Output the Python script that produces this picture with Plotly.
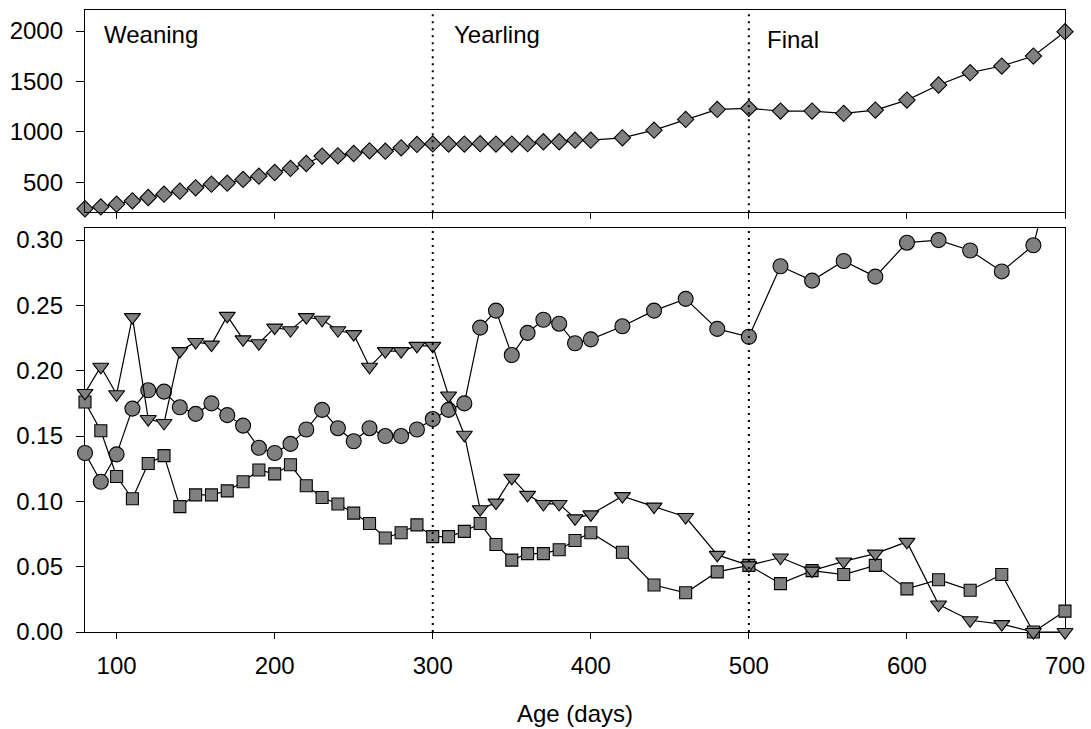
import plotly.graph_objects as go
from plotly.subplots import make_subplots

# ---- data ----
age_days = [80, 90, 100, 110, 120, 130, 140, 150, 160, 170, 180, 190, 200, 210, 220, 230,
            240, 250, 260, 270, 280, 290, 300, 310, 320, 330, 340, 350, 360, 370, 380, 390,
            400, 420, 440, 460, 480, 500, 520, 540, 560, 580, 600, 620, 640, 660, 680, 700]

weight = [240, 258, 285, 318, 351, 384, 414, 447, 483, 493, 530, 562, 599, 639, 688, 761,
          764, 787, 813, 810, 843, 877, 882, 880, 880, 884, 880, 880, 884, 903, 903, 919,
          919, 942, 1018, 1124, 1223, 1234, 1207, 1207, 1184, 1217, 1316, 1465, 1587, 1653, 1752, 1993]

circles = [0.137, 0.115, 0.136, 0.171, 0.185, 0.184, 0.172, 0.167, 0.175, 0.166, 0.158, 0.141,
           0.137, 0.144, 0.155, 0.170, 0.156, 0.146, 0.156, 0.150, 0.150, 0.155, 0.163, 0.170,
           0.175, 0.233, 0.246, 0.212, 0.229, 0.239, 0.236, 0.221, 0.224, 0.234, 0.246, 0.255,
           0.232, 0.226, 0.280, 0.269, 0.284, 0.272, 0.298, 0.300, 0.292, 0.276, 0.296, 0.390]

triangles = [0.183, 0.203, 0.182, 0.241, 0.163, 0.160, 0.215, 0.222, 0.220, 0.242, 0.224, 0.221,
             0.233, 0.231, 0.241, 0.239, 0.231, 0.228, 0.203, 0.215, 0.215, 0.219, 0.219, 0.181,
             0.151, 0.094, 0.099, 0.118, 0.105, 0.098, 0.098, 0.087, 0.090, 0.104, 0.096, 0.088,
             0.059, 0.051, 0.057, 0.047, 0.054, 0.060, 0.069, 0.021, 0.009, 0.006, 0.000, 0.000]

squares = [0.176, 0.154, 0.119, 0.102, 0.129, 0.135, 0.096, 0.105, 0.105, 0.108, 0.115, 0.124,
           0.121, 0.128, 0.112, 0.103, 0.098, 0.091, 0.083, 0.072, 0.076, 0.082, 0.073, 0.073,
           0.077, 0.083, 0.067, 0.055, 0.060, 0.060, 0.063, 0.070, 0.076, 0.061, 0.036, 0.030,
           0.046, 0.051, 0.037, 0.047, 0.044, 0.051, 0.033, 0.040, 0.032, 0.044, 0.000, 0.016]

phase_bounds = [300, 500]
phase_labels = ["Weaning", "Yearling", "Final"]
phase_label_x = [91, 312, 510]
phase_label_y = [1965, 1965, 1915]

top_ticks = [500, 1000, 1500, 2000]
bottom_ticks = [0.00, 0.05, 0.10, 0.15, 0.20, 0.25, 0.30]
x_ticks = [100, 200, 300, 400, 500, 600, 700]

X_RANGE = [80, 700]
TOP_RANGE = [206, 2208]
BOT_RANGE = [0, 0.309]

FONT = "Liberation Sans, Arial, sans-serif"
FILL = "#808080"
FS = 24

fig = make_subplots(rows=2, cols=1, shared_xaxes=False, vertical_spacing=0.0)

line_style = dict(color="black", width=1.2)
mk_line = dict(color="black", width=1.1)

fig.add_trace(go.Scatter(x=age_days, y=weight, mode="lines+markers", line=line_style,
                         marker=dict(symbol="diamond", size=12.5, color=FILL, line=mk_line),
                         cliponaxis=False, showlegend=False), row=1, col=1)

# circles: line clipped, markers drawn unclipped only where inside range
fig.add_trace(go.Scatter(x=age_days, y=circles, mode="lines", line=line_style,
                         showlegend=False), row=2, col=1)
fig.add_trace(go.Scatter(x=age_days, y=circles, mode="markers",
                         marker=dict(symbol="circle", size=15, color=FILL, line=mk_line,
                                     opacity=[1 if v <= BOT_RANGE[1] else 0 for v in circles]),
                         cliponaxis=False, showlegend=False), row=2, col=1)
fig.add_trace(go.Scatter(x=age_days, y=squares, mode="lines+markers", line=line_style,
                         marker=dict(symbol="square", size=12, color=FILL, line=mk_line),
                         cliponaxis=False, showlegend=False), row=2, col=1)
fig.add_trace(go.Scatter(x=age_days, y=triangles, mode="lines+markers", line=line_style,
                         marker=dict(symbol="triangle-down", size=14, color=FILL, line=mk_line),
                         cliponaxis=False, showlegend=False), row=2, col=1)

# dotted phase boundaries in both panels
for xb in phase_bounds:
    for yref in ["y domain", "y2 domain"]:
        xref = "x" if yref == "y domain" else "x2"
        fig.add_shape(type="line", xref=xref, yref=yref, x0=xb, x1=xb, y0=0, y1=1,
                      line=dict(color="black", width=2, dash="2px,5px"), layer="above")

for lbl, lx, ly in zip(phase_labels, phase_label_x, phase_label_y):
    fig.add_annotation(x=lx, y=ly, xref="x", yref="y", text=lbl, showarrow=False,
                       xanchor="left", yanchor="middle", font=dict(size=FS, color="black", family=FONT))

axis_common = dict(showgrid=False, zeroline=False, showline=True, linecolor="black", linewidth=1.3,
                   mirror=True, ticks="outside", tickcolor="black", tickwidth=1.3, automargin=False,
                   tickfont=dict(size=FS, color="black", family=FONT))

fig.update_xaxes(**axis_common)
fig.update_yaxes(**axis_common)

fig.update_layout(
    xaxis=dict(range=X_RANGE, tickvals=x_ticks, showticklabels=False, ticklen=6, domain=[0, 1]),
    xaxis2=dict(range=X_RANGE, tickvals=x_ticks, ticklen=6, layer="below traces", ticklabelstandoff=6,
                title=dict(text="Age (days)", font=dict(size=FS, color="black", family=FONT), standoff=27)),
    yaxis=dict(range=TOP_RANGE, tickvals=top_ticks, ticklen=8, domain=[0.675, 1.0], ticklabelstandoff=8),
    yaxis2=dict(range=BOT_RANGE, tickvals=bottom_ticks, ticklen=8, tickformat=".2f", ticklabelstandoff=8,
                domain=[0.0, 0.649], layer="below traces"),
    width=1091, height=729,
    margin=dict(l=85, r=26, t=10, b=97),
    plot_bgcolor="white", paper_bgcolor="white",
    font=dict(family=FONT, color="black"),
)

fig.write_html("out.html", config={"displayModeBar": False},
               post_script="document.body.style.margin='0';")
